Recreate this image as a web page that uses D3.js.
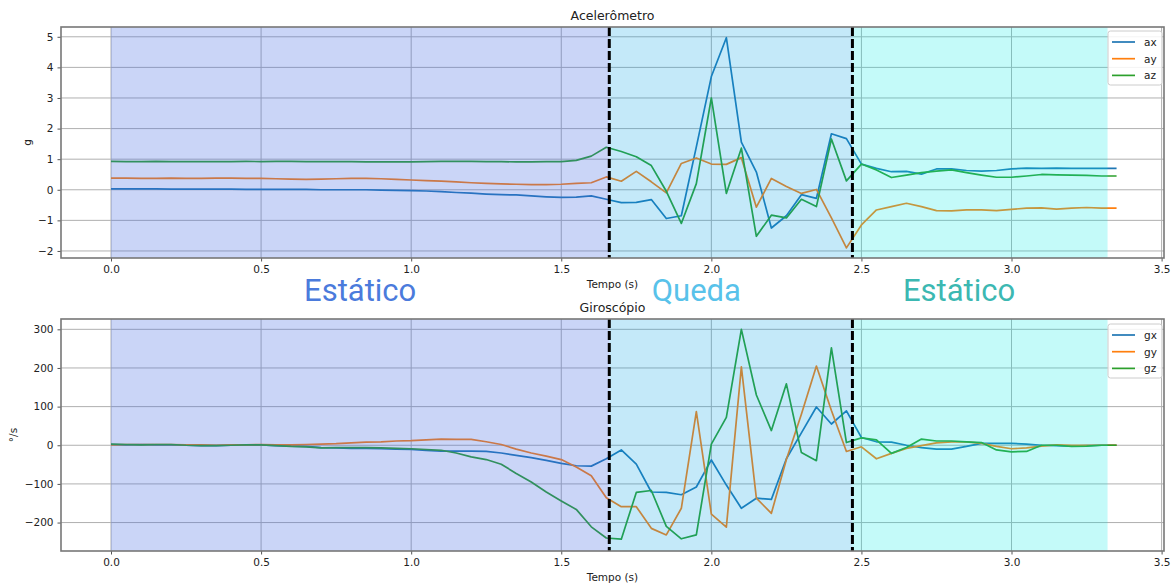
<!DOCTYPE html>
<html>
<head>
<meta charset="utf-8">
<script src="https://cdn.jsdelivr.net/npm/d3@7"></script>
<style>
  html, body { margin: 0; padding: 0; background: #fff; }
  svg text { font-family: "DejaVu Sans", sans-serif; fill: #222; }
</style>
</head>
<body>
<svg id="chart" width="1173" height="587"></svg>
<script>
// Sample times (s)
const time = [
  0.00,0.05,0.10,0.15,0.20,0.25,0.30,0.35,0.40,0.45,0.50,0.55,0.60,0.65,0.70,0.75,0.80,0.85,0.90,0.95,
  1.00,1.05,1.10,1.15,1.20,1.25,1.30,1.35,1.40,1.45,1.50,1.55,1.60,1.65,1.70,1.75,1.80,1.85,1.90,1.95,
  2.00,2.05,2.10,2.15,2.20,2.25,2.30,2.35,2.40,2.45,2.50,2.55,2.60,2.65,2.70,2.75,2.80,2.85,2.90,2.95,
  3.00,3.05,3.10,3.15,3.20,3.25,3.30,3.35
];

// Accelerometer (g)
const ax = [
  0.03,0.03,0.03,0.03,0.02,0.02,0.02,0.02,0.02,0.01,0.01,0.01,0.01,0.01,0.00,0.00,0.00,0.00,-0.01,-0.02,
  -0.03,-0.04,-0.06,-0.09,-0.11,-0.14,-0.16,-0.17,-0.20,-0.23,-0.25,-0.24,-0.20,-0.31,-0.42,-0.41,-0.32,-0.94,-0.85,1.40,
  3.70,4.97,1.56,0.58,-1.25,-0.85,-0.16,-0.28,1.83,1.67,0.84,0.70,0.59,0.60,0.51,0.68,0.68,0.63,0.61,0.63,
  0.68,0.71,0.70,0.71,0.70,0.70,0.70,0.70
];
const ay = [
  0.38,0.38,0.37,0.37,0.38,0.37,0.37,0.38,0.38,0.37,0.37,0.36,0.35,0.34,0.35,0.36,0.37,0.37,0.36,0.34,
  0.32,0.30,0.28,0.26,0.23,0.21,0.19,0.18,0.17,0.17,0.18,0.21,0.23,0.42,0.28,0.60,0.26,-0.10,0.86,1.04,
  0.84,0.83,1.05,-0.57,0.37,0.11,-0.12,0.01,-0.92,-1.90,-1.15,-0.66,-0.55,-0.44,-0.55,-0.68,-0.69,-0.66,-0.66,-0.68,
  -0.64,-0.60,-0.59,-0.63,-0.60,-0.58,-0.60,-0.60
];
const az = [
  0.93,0.92,0.92,0.93,0.92,0.92,0.92,0.92,0.92,0.93,0.92,0.93,0.93,0.92,0.92,0.92,0.92,0.91,0.91,0.91,
  0.91,0.92,0.93,0.93,0.93,0.92,0.92,0.91,0.91,0.92,0.92,0.96,1.10,1.39,1.25,1.08,0.79,-0.05,-1.10,0.20,
  3.00,-0.12,1.36,-1.52,-0.83,-0.92,-0.31,-0.55,1.66,0.29,0.84,0.65,0.40,0.48,0.56,0.61,0.65,0.56,0.48,0.41,
  0.41,0.45,0.50,0.49,0.48,0.47,0.45,0.45
];

// Gyroscope (°/s)
const gx = [
  2,1,2,1,1,0,-1,-1,0,1,1,-1,-2,-3,-6,-7,-8,-8,-9,-10,
  -11,-13,-15,-15,-15,-16,-20,-26,-32,-39,-47,-53,-54,-35,-12,-49,-121,-122,-128,-108,
  -38,-103,-163,-137,-140,-35,32,99,55,89,20,9,8,0,-6,-10,-10,-3,5,5,
  5,3,0,-1,-2,-1,0,0
];
const gy = [
  1,2,2,2,2,1,1,0,1,1,2,1,1,2,3,4,6,8,9,11,
  12,14,16,15,15,9,2,-10,-20,-28,-37,-56,-79,-136,-159,-159,-215,-232,-163,87,
  -178,-212,203,-137,-176,-37,80,205,90,-16,-4,-35,-21,-8,-1,6,9,9,5,-3,
  -9,-7,-2,1,0,0,0,0
];
const gz = [
  3,2,1,2,2,0,-1,-1,0,1,1,-1,-3,-4,-7,-6,-6,-6,-7,-8,
  -9,-11,-13,-20,-30,-37,-49,-73,-95,-121,-144,-166,-211,-240,-243,-122,-117,-210,-242,-232,
  3,72,300,130,38,159,-19,-40,252,7,19,14,-21,-6,16,11,11,9,7,-12,
  -17,-16,0,0,-3,-2,0,0
];

// Phases of the recording
const phaseNames = ["Estático", "Queda", "Estático"];
const phaseStart = [0, 1.66, 2.47];
const phaseEnd   = [1.66, 2.47, 3.32];
const phaseBoundaries = [1.66, 2.47];

const xTicks = [0, 0.5, 1.0, 1.5, 2.0, 2.5, 3.0, 3.5];
const accTicks = [-2, -1, 0, 1, 2, 3, 4, 5];
const gyroTicks = [-200, -100, 0, 100, 200, 300];

const seriesColors = ["#1f77b4", "#ff7f0e", "#2ca02c"];
const phaseFill = ["rgba(65,105,225,0.28)", "rgba(0,160,230,0.23)", "rgba(0,232,228,0.23)"];
const phaseText = ["#4b7bdc", "#58c2ea", "#3cb8b2"];

const svg = d3.select("#chart");

const x = d3.scaleLinear().domain([-0.1666, 3.508]).range([61, 1164]);

function panel(cfg) {
  const y = d3.scaleLinear().domain(cfg.yDomain).range([cfg.bottom, cfg.top]);
  const g = svg.append("g");
  const left = x.range()[0], right = x.range()[1];

  // grid
  g.append("g").selectAll("line").data(cfg.yTicks).join("line")
    .attr("x1", left).attr("x2", right)
    .attr("y1", d => y(d)).attr("y2", d => y(d))
    .attr("stroke", "#b0b0b0").attr("stroke-width", 1);
  g.append("g").selectAll("line").data(xTicks).join("line")
    .attr("x1", d => x(d)).attr("x2", d => x(d))
    .attr("y1", cfg.top).attr("y2", cfg.bottom)
    .attr("stroke", "#b0b0b0").attr("stroke-width", 1);

  // series
  const line = d3.line().x((d, i) => x(time[i])).y(d => y(d));
  cfg.series.forEach((s, k) => {
    g.append("path").datum(s)
      .attr("d", line)
      .attr("fill", "none")
      .attr("stroke", seriesColors[k])
      .attr("stroke-width", 1.7)
      .attr("stroke-linejoin", "round");
  });

  // translucent phase bands
  g.append("g").selectAll("rect").data(phaseStart).join("rect")
    .attr("x", (d) => x(d))
    .attr("width", (d, i) => x(phaseEnd[i]) - x(d))
    .attr("y", cfg.top).attr("height", cfg.bottom - cfg.top)
    .attr("fill", (d, i) => phaseFill[i]);

  // phase boundaries
  g.append("g").selectAll("line").data(phaseBoundaries).join("line")
    .attr("x1", d => x(d)).attr("x2", d => x(d))
    .attr("y1", cfg.top).attr("y2", cfg.bottom)
    .attr("stroke", "#000").attr("stroke-width", 3)
    .attr("stroke-dasharray", "9,3");

  // axes
  const xa = g.append("g").attr("transform", `translate(0,${cfg.bottom})`)
    .call(d3.axisBottom(x).tickValues(xTicks).tickFormat(d3.format(".1f")).tickSize(3.5).tickPadding(4));
  const ya = g.append("g").attr("transform", `translate(${left},0)`)
    .call(d3.axisLeft(y).tickValues(cfg.yTicks).tickFormat(d3.format("d")).tickSize(3.5).tickPadding(4));
  [xa, ya].forEach(a => {
    a.select(".domain").remove();
    a.selectAll(".tick line").attr("stroke", "#555");
    a.selectAll(".tick text").attr("font-size", 10.5).attr("fill", "#222")
      .attr("font-family", "DejaVu Sans, sans-serif");
  });

  // frame
  g.append("rect").attr("x", left).attr("y", cfg.top)
    .attr("width", right - left).attr("height", cfg.bottom - cfg.top)
    .attr("fill", "none").attr("stroke", "#777").attr("stroke-width", 1.6);

  // titles and labels
  g.append("text").attr("x", (left + right) / 2).attr("y", cfg.top - 7)
    .attr("text-anchor", "middle").attr("font-size", 12.5).text(cfg.title);
  g.append("text").attr("x", (left + right) / 2).attr("y", cfg.bottom + 30)
    .attr("text-anchor", "middle").attr("font-size", 10.5).text("Tempo (s)");
  g.append("text")
    .attr("transform", `translate(${cfg.ylabelX},${(cfg.top + cfg.bottom) / 2}) rotate(-90)`)
    .attr("text-anchor", "middle").attr("font-size", 10.5).text(cfg.ylabel);

  // legend
  const lg = g.append("g").attr("transform", `translate(1108,${cfg.legendTop})`);
  lg.append("rect").attr("width", 54).attr("height", 54).attr("rx", 2.5)
    .attr("fill", "rgba(255,255,255,0.85)").attr("stroke", "#ccc").attr("stroke-width", 1);
  cfg.names.forEach((n, k) => {
    const yy = 11 + k * 16.7;
    lg.append("line").attr("x1", 4).attr("x2", 27).attr("y1", yy).attr("y2", yy)
      .attr("stroke", seriesColors[k]).attr("stroke-width", 1.7);
    lg.append("text").attr("x", 36).attr("y", yy + 4).attr("font-size", 10.5).text(n);
  });
}

panel({
  top: 27, bottom: 258, yDomain: [-2.23, 5.32], yTicks: accTicks,
  series: [ax, ay, az], names: ["ax", "ay", "az"],
  title: "Acelerômetro", ylabel: "g", ylabelX: 31, legendTop: 31
});
panel({
  top: 319, bottom: 551, yDomain: [-273.6, 326.7], yTicks: gyroTicks,
  series: [gx, gy, gz], names: ["gx", "gy", "gz"],
  title: "Giroscópio", ylabel: "°/s", ylabelX: 17, legendTop: 324
});

// phase names between the panels
const phaseLabelT = [0.83, 1.95, 2.825];
svg.append("g").selectAll("text").data(phaseNames).join("text")
  .attr("x", (d, i) => x(phaseLabelT[i]))
  .attr("y", 301)
  .attr("text-anchor", "middle")
  .attr("font-size", 31)
  .style("font-family", "Roboto, sans-serif")
  .style("fill", (d, i) => phaseText[i])
  .text(d => d);
</script>
</body>
</html>
